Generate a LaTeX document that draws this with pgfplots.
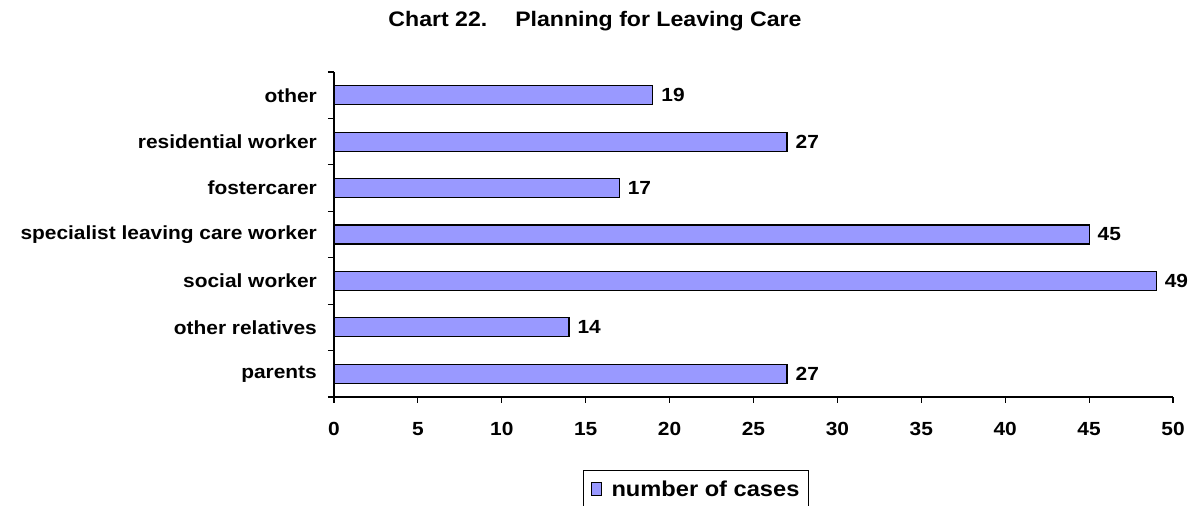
\documentclass[border=0pt]{standalone}
\usepackage{fontspec}
\setmainfont{Liberation Sans}[FakeStretch=1.1]
\usepackage{pgfplots}
\pgfplotsset{compat=1.18}
\definecolor{barblue}{HTML}{9999FF}
\begin{document}
\begin{tikzpicture}
\useasboundingbox (0,0) rectangle (1189pt,506pt);
\node[font=\fontsize{21}{24}\selectfont\bfseries] at (595pt,485pt) {Chart 22.\hspace{28pt}Planning for Leaving Care};
\begin{axis}[
  at={(334pt,109pt)}, anchor=south west,
  scale only axis, width=839pt, height=325pt,
  xmin=0, xmax=50, ymin=-0.5, ymax=6.5,
  clip=false,
  xbar,
  axis x line*=bottom, axis y line*=left,
  axis line style={black, line width=1.2pt, -},
  xtick={0,5,...,50},
  ytick={0,...,6},
  yticklabels={parents, other relatives, social worker, specialist leaving care worker, fostercarer, residential worker, other},
  minor ytick={-0.5,0.5,...,6.5},
  tick align=outside,
  major tick length=6pt, minor tick length=6pt,
  tick style={black, line width=1.2pt},
  major y tick style={draw=none},
  /pgf/number format/assume math mode=true,
  ticklabel style={font=\fontsize{19}{22}\selectfont\bfseries},
  yticklabel style={inner sep=0pt, xshift=-11pt},
  xticklabel style={yshift=-16pt},
  nodes near coords,
  nodes near coords style={font=\fontsize{19}{22}\selectfont\bfseries, anchor=west, inner sep=0pt, xshift=8pt},
  legend style={at={(0.2968,-0.2246)}, anchor=north west, draw=black, line width=1pt,
    font=\fontsize{21.5}{24}\selectfont\bfseries, inner xsep=7pt, inner ysep=8pt},
  legend image code/.code={\draw[fill=barblue,draw=black,line width=0.8pt] (0pt,-6pt) rectangle (10pt,7pt); \path (18pt,0pt);},
]
\addplot[xbar, bar width=19pt, bar shift=0pt, fill=barblue, draw=black, line width=1.2pt]
  coordinates {(27,0) (14,1) (49,2) (45,3) (17,4) (27,5) (19,6)};
\legend{number of cases}
\end{axis}
\end{tikzpicture}
\end{document}
